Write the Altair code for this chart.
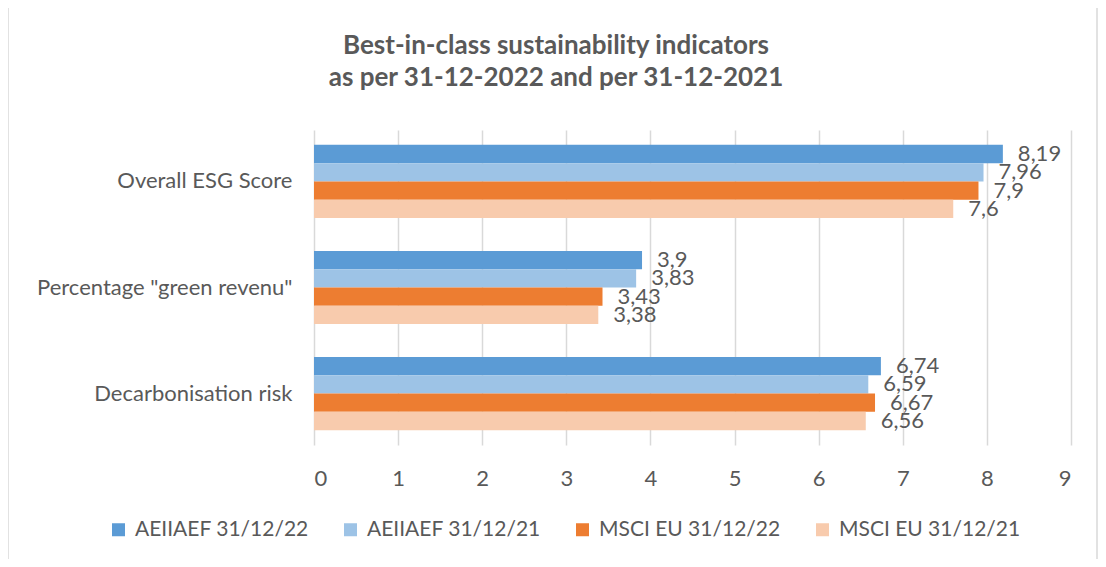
import altair as alt
import pandas as pd

categories = ["Overall ESG Score", 'Percentage "green revenu"', "Decarbonisation risk"]
series = ["AEIIAEF 31/12/22", "AEIIAEF 31/12/21", "MSCI EU 31/12/22", "MSCI EU 31/12/21"]
aeiiaef_22 = [8.19, 3.9, 6.74]
aeiiaef_21 = [7.96, 3.83, 6.59]
msci_eu_22 = [7.9, 3.43, 6.67]
msci_eu_21 = [7.6, 3.38, 6.56]
colors = ["#5B9BD5", "#9DC3E6", "#ED7D31", "#F8CBAD"]
x_ticks = [0, 1, 2, 3, 4, 5, 6, 7, 8, 9]
title_lines = ["Best-in-class sustainability indicators", "as per 31-12-2022 and per 31-12-2021"]

rows = []
for s, vals in zip(series, [aeiiaef_22, aeiiaef_21, msci_eu_22, msci_eu_21]):
    for c, v in zip(categories, vals):
        rows.append({"category": c, "series": s, "value": v,
                     "label": f"{v:g}".replace(".", ",")})
df = pd.DataFrame(rows)
title_df = pd.DataFrame({"line": title_lines, "row": [0, 1]})

FONT = "Lato"
GREY = "#595959"
W, H = 757, 315
PAD_L, PAD_T, PAD_R, PAD_B = 306, 122, 27, 114

y = alt.Y("category:N", sort=categories, title=None,
          scale=alt.Scale(paddingInner=0.31, paddingOuter=0.14),
          axis=alt.Axis(domain=False, ticks=False, labelPadding=22, labelFontSize=22,
                        labelColor=GREY, labelFont=FONT, labelLimit=400))
yoff = alt.YOffset("series:N", sort=series)
x = alt.X("value:Q", title=None, scale=alt.Scale(domain=[0, 9], nice=False),
          axis=alt.Axis(values=x_ticks, format="d", domain=False, ticks=False, grid=True,
                        gridColor="#d9d9d9", gridWidth=1.5, labelPadding=23,
                        labelFontSize=22, labelColor=GREY, labelFont=FONT))

bars = alt.Chart(df).mark_bar().encode(
    x=x, y=y, yOffset=yoff,
    color=alt.Color("series:N", sort=series,
                    scale=alt.Scale(domain=series, range=colors),
                    legend=alt.Legend(title=None, orient="none", legendX=-206, legendY=389,
                                      direction="horizontal", columns=4, columnPadding=31,
                                      symbolType="square", symbolSize=169, symbolStrokeWidth=0,
                                      labelFontSize=21, labelColor=GREY, labelFont=FONT,
                                      labelLimit=400, symbolOffset=0, labelOffset=6)),
)

labels = alt.Chart(df).mark_text(align="left", baseline="middle", dx=15, fontSize=22,
                                 color=GREY, font=FONT).encode(
    x=alt.X("value:Q"), y=alt.Y("category:N", sort=categories), yOffset=yoff,
    text="label:N")

title_layers = []
for r, ypos in [(0, -84), (1, -52)]:
    title_layers.append(
        alt.Chart(title_df).transform_filter(alt.datum.row == r)
        .mark_text(align="center", baseline="middle", fontSize=26, fontWeight="bold",
                   color=GREY, font=FONT)
        .encode(x=alt.value(242), y=alt.value(ypos), text="line:N"))

frame = alt.Chart(pd.DataFrame({"f": [0]})).mark_rect(
    fill="transparent", stroke="#d9d9d9", strokeWidth=1.5).encode(
    x=alt.value(-PAD_L), x2=alt.value(W + PAD_R - 1),
    y=alt.value(-PAD_T - 2), y2=alt.value(H + 200))

chart = alt.layer(frame, bars, labels, *title_layers).properties(
    width=W, height=H,
    autosize=alt.AutoSizeParams(type="none"),
    padding={"left": PAD_L, "top": PAD_T, "right": PAD_R, "bottom": PAD_B},
).configure_view(stroke=None)

chart.save("out.html", embed_options={"renderer": "svg", "actions": False})
